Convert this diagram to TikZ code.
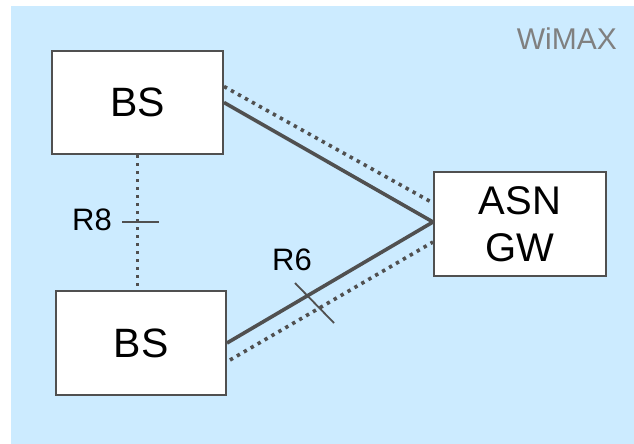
\documentclass[tikz,border=0pt]{standalone}
\usepackage{fontspec}
\setmainfont{Liberation Sans}
\usetikzlibrary{calc}
\definecolor{bgblue}{RGB}{204,235,255}
\definecolor{linegray}{RGB}{80,80,80}
\definecolor{labgray}{RGB}{128,128,128}
\tikzset{
  box/.style={draw=linegray, line width=2pt, fill=white, inner sep=0pt, align=center},
  solidlink/.style={draw=linegray, line width=3.6pt},
  dotlink/.style={draw=linegray, line width=3.6pt, dash pattern=on 3.4pt off 4.6pt},
  tickmark/.style={draw=linegray, line width=1.8pt},
  lab/.style={inner sep=0pt, font=\fontsize{31}{31}\selectfont}
}
\begin{document}
\begin{tikzpicture}[x=1pt,y=-1pt]
\useasboundingbox (0,0) rectangle (634,444);
\fill[bgblue] (11,6) rectangle (634,444);

\node[box, minimum width=171pt, minimum height=103pt, font=\fontsize{41}{41}\selectfont] (bs1) at (137.5,102.5) {BS};
\node[box, minimum width=170pt, minimum height=104pt, font=\fontsize{41}{41}\selectfont] (bs2) at (141,343) {BS};
\node[box, minimum width=172pt, minimum height=104pt, font=\fontsize{40}{47}\selectfont] (asn) at (520,224) {ASN\\GW};

% links
\draw[dotlink] ($(bs1.east)+(0,-16)$) -- ($(asn.west)+(0,-21)$);
\draw[solidlink] (bs1.east) -- ($(asn.west)+(0,-2)$);
\draw[solidlink] (bs2.east) -- ($(asn.west)+(0,-2)$);
\draw[dotlink] ($(bs2.east)+(3,17)$) -- ($(asn.west)+(0,18)$);
\draw[dotlink] (bs1.south) -- (bs1.south |- bs2.north);

% ticks
\coordinate (r8a) at (122,222);
\coordinate (r8b) at (159,222);
\draw[tickmark] (r8a) -- (r8b);
\coordinate (r6a) at (295,283);
\coordinate (r6b) at (334,323);
\draw[tickmark] (r6a) -- (r6b);

% labels
\node[lab, anchor=base east] (r8) at (112,230) {R8};
\node[lab, anchor=base west] (r6) at (272,270) {R6};
\node[lab, anchor=base east, text=labgray, font=\fontsize{30}{30}\selectfont] (wimax) at (617,50) {WiMAX};
\end{tikzpicture}
\end{document}
